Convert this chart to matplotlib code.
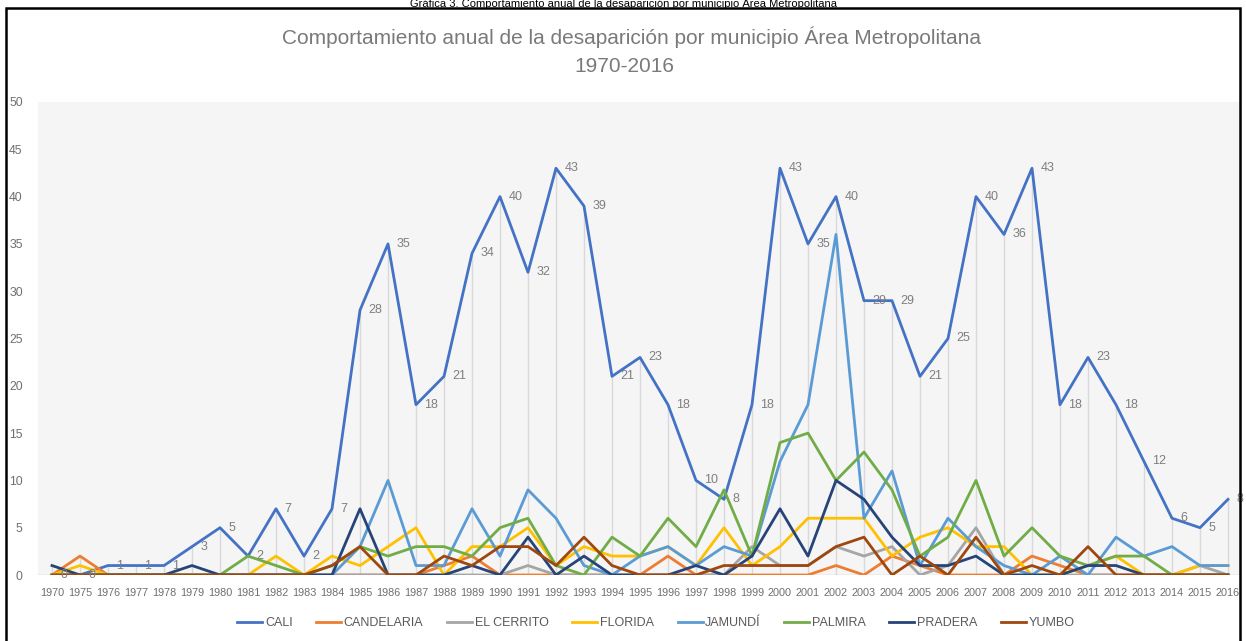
import numpy as np
import matplotlib
matplotlib.use('Agg')
from matplotlib import pyplot as plt
from matplotlib.patches import Rectangle

# categories (1971-1974 are missing in the source table)
years = ['1970'] + [str(y) for y in range(1975, 2017)]

cali = [0, 0, 1, 1, 1, 3, 5, 2, 7, 2, 7, 28, 35, 18, 21, 34, 40, 32, 43, 39, 21, 23,
        18, 10, 8, 18, 43, 35, 40, 29, 29, 21, 25, 40, 36, 43, 18, 23, 18, 12, 6, 5, 8]
candelaria = [0, 2, 0, 0, 0, 0, 0, 0, 0, 0, 0, 0, 0, 0, 1, 2, 0, 0, 0, 0, 0, 0,
              2, 0, 0, 0, 0, 0, 1, 0, 2, 1, 0, 0, 0, 2, 1, 0, 0, 0, 0, 0, 0]
el_cerrito = [0, 0, 0, 0, 0, 0, 0, 0, 0, 0, 0, 0, 0, 0, 0, 0, 0, 1, 0, 0, 0, 0,
              0, 0, 0, 3, 1, 1, 3, 2, 3, 0, 1, 5, 0, 0, 0, 0, 0, 0, 0, 1, 0]
florida = [0, 1, 0, 0, 0, 0, 0, 0, 2, 0, 2, 1, 3, 5, 0, 3, 3, 5, 1, 3, 2, 2,
           3, 1, 5, 1, 3, 6, 6, 6, 2, 4, 5, 3, 3, 0, 0, 1, 2, 0, 0, 1, 1]
jamundi = [0, 0, 0, 0, 0, 0, 0, 0, 0, 0, 0, 3, 10, 1, 1, 7, 2, 9, 6, 1, 0, 2,
           3, 1, 3, 2, 12, 18, 36, 6, 11, 1, 6, 3, 1, 0, 2, 0, 4, 2, 3, 1, 1]
palmira = [0, 0, 0, 0, 0, 0, 0, 2, 1, 0, 1, 3, 2, 3, 3, 2, 5, 6, 1, 0, 4, 2,
           6, 3, 9, 2, 14, 15, 10, 13, 9, 2, 4, 10, 2, 5, 2, 1, 2, 2, 0, 0, 0]
pradera = [1, 0, 0, 0, 0, 1, 0, 0, 0, 0, 0, 7, 0, 0, 0, 1, 0, 4, 0, 2, 0, 0,
           0, 1, 0, 2, 7, 2, 10, 8, 4, 1, 1, 2, 0, 0, 0, 1, 1, 0, 0, 0, 0]
yumbo = [0, 0, 0, 0, 0, 0, 0, 0, 0, 0, 1, 3, 0, 0, 2, 1, 3, 3, 1, 4, 1, 0,
         0, 0, 1, 1, 1, 1, 3, 4, 0, 2, 0, 4, 0, 1, 0, 3, 0, 0, 0, 0, 0]

names = ['CALI', 'CANDELARIA', 'EL CERRITO', 'FLORIDA', 'JAMUNDÍ', 'PALMIRA', 'PRADERA', 'YUMBO']
series = [cali, candelaria, el_cerrito, florida, jamundi, palmira, pradera, yumbo]
colors = ['#4472C4', '#ED7D31', '#A5A5A5', '#FFC000', '#5B9BD5', '#70AD47', '#264478', '#9E480E']

narrow = ['Liberation Sans Narrow', 'Liberation Sans', 'DejaVu Sans']
W, H = 1246, 641

fig = plt.figure(figsize=(W / 100, H / 100), dpi=100)
fig.patch.set_facecolor('white')

# border of the chart box
fig.add_artist(Rectangle((6 / W, -0.02), (1240 - 6) / W, 1.02 - 8 / H,
                         transform=fig.transFigure, fill=False, edgecolor='black', linewidth=1.8))

# caption above the box
fig.text(623 / W, 1 - 3.5 / H, 'Gráfica 3. Comportamiento anual de la desaparición por municipio Área Metropolitana',
         ha='center', va='center', fontsize=8, family=['Liberation Sans', 'DejaVu Sans'], color='black')

fig.text(632 / W, 1 - 37 / H, 'Comportamiento anual de la desaparición por municipio Área Metropolitana',
         ha='center', va='center', fontsize=15, family=narrow, color='#7a7a7a')
fig.text(624 / W, 1 - 67 / H, '1970-2016',
         ha='center', va='center', fontsize=15, family=narrow, color='#7a7a7a')

ax = fig.add_axes([38 / W, (H - 575) / H, (1242 - 38) / W, (575 - 102) / H])
ax.set_facecolor('#f5f5f5')
x = np.arange(len(years))

# drop lines from the highest value down to the axis
top = np.max(np.array(series), axis=0)
ax.vlines(x, 0, top, color='#d9d9d9', linewidth=1, zorder=1)
ax.axhline(0, color='#c8c8c8', linewidth=1, zorder=1)

for vals, name, c in zip(series, names, colors):
    ax.plot(x, vals, color=c, linewidth=2.0, label=name, zorder=2, solid_joinstyle='round')

for xi, v in zip(x, cali):
    ax.annotate(str(v), (xi, v), xytext=(6, 0), textcoords='offset points', ha='left', va='center',
                fontsize=9, family=narrow, color='#7f7f7f', zorder=3)

ax.set_xlim(-0.5, len(years) - 0.5)
ax.set_ylim(0, 50)
ax.set_yticks(range(0, 51, 5))
ax.set_xticks(x)
ax.set_xticklabels(years)
ax.tick_params(axis='both', length=0, colors='#6f6f6f')
ax.tick_params(axis='x', pad=9, labelsize=7.8)
ax.tick_params(axis='y', pad=11, labelsize=8.8)
for lab in ax.get_xticklabels() + ax.get_yticklabels():
    lab.set_family(narrow)
for s in ax.spines.values():
    s.set_visible(False)

leg = fig.legend(loc='center', bbox_to_anchor=(656 / W, 1 - 623 / H), ncol=8, frameon=False,
                 handlelength=2.0, handletextpad=0.2, columnspacing=1.9,
                 prop={'family': narrow, 'size': 9})
for t in leg.get_texts():
    t.set_color('#595959')
for l in leg.get_lines():
    l.set_linewidth(2.0)

fig.savefig('out.png', dpi=100)
